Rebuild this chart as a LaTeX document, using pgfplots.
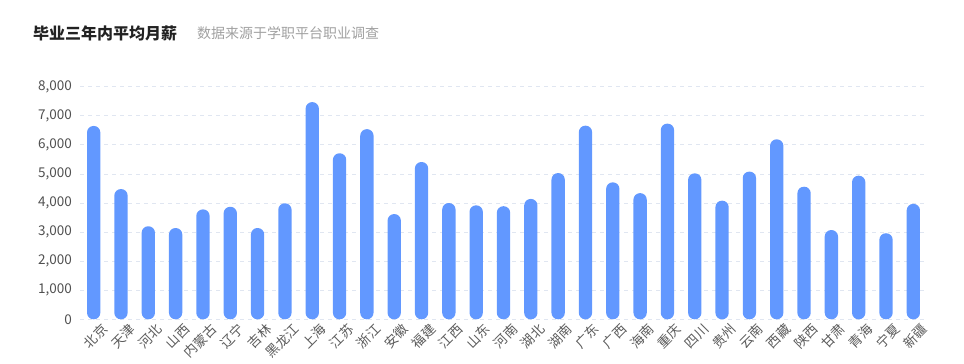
\documentclass[border=0pt]{standalone}
\usepackage{fontspec}
\setmainfont{Noto Sans CJK SC}
\usepackage{pgfplots}
\pgfplotsset{compat=1.18}
\definecolor{barblue}{RGB}{98,152,255}
\definecolor{gridc}{RGB}{224,230,241}
\definecolor{titlec}{RGB}{34,34,34}
\definecolor{subc}{RGB}{160,160,160}
\definecolor{tickc}{RGB}{80,80,80}
\definecolor{xtickc}{RGB}{90,90,90}
\begin{document}
\begin{tikzpicture}[x=1pt,y=1pt]
\useasboundingbox (0,0) rectangle (964,364);
\node[anchor=west,inner sep=0pt,text=titlec,font=\fontsize{16}{18}\selectfont\bfseries] at (33,331) {毕业三年内平均月薪};
\node[anchor=west,inner sep=0pt,text=subc,font=\fontsize{14}{16}\selectfont] at (197,331) {数据来源于学职平台职业调查};
\begin{axis}[
  at={(80pt,44.7pt)}, anchor=south west,
  scale only axis, width=847pt, height=232.6pt,
  ybar, bar width=13.3pt,
  xmin=-0.5, xmax=30.5, ymin=0, ymax=8000,
  xtick={0,...,30},
  xticklabels={北京,天津,河北,山西,内蒙古,辽宁,吉林,黑龙江,上海,江苏,浙江,安徽,福建,江西,山东,河南,湖北,湖南,广东,广西,海南,重庆,四川,贵州,云南,西藏,陕西,甘肃,青海,宁夏,新疆},
  ytick={0,1000,...,8000},
  scaled y ticks=false,
  /pgf/number format/assume math mode=true,
  /pgf/number format/1000 sep={,},
  axis line style={draw=none},
  major tick length=0pt,
  ymajorgrids,
  grid style={gridc, line width=0.8pt, dash pattern=on 4pt off 4pt},
  yticklabel style={font=\fontsize{13.5}{15}\selectfont, text=tickc, anchor=east, inner sep=0pt, xshift=-8pt},
  xticklabel style={font=\fontsize{13.3}{15}\selectfont, text=xtickc, xshift=11.5pt, yshift=-7.5pt, rotate=45, anchor=east, inner sep=0pt},
]
\addplot[fill=barblue, draw=none, rounded corners=6.5pt] coordinates {
(0,6650) (1,4480) (2,3200) (3,3140) (4,3780) (5,3870) (6,3140) (7,3990)
(8,7470) (9,5710) (10,6540) (11,3620) (12,5410) (13,4000) (14,3920) (15,3890)
(16,4140) (17,5030) (18,6660) (19,4710) (20,4340) (21,6730) (22,5020) (23,4080)
(24,5080) (25,6190) (26,4560) (27,3070) (28,4940) (29,2960) (30,3970)
};
\end{axis}
\end{tikzpicture}
\end{document}
